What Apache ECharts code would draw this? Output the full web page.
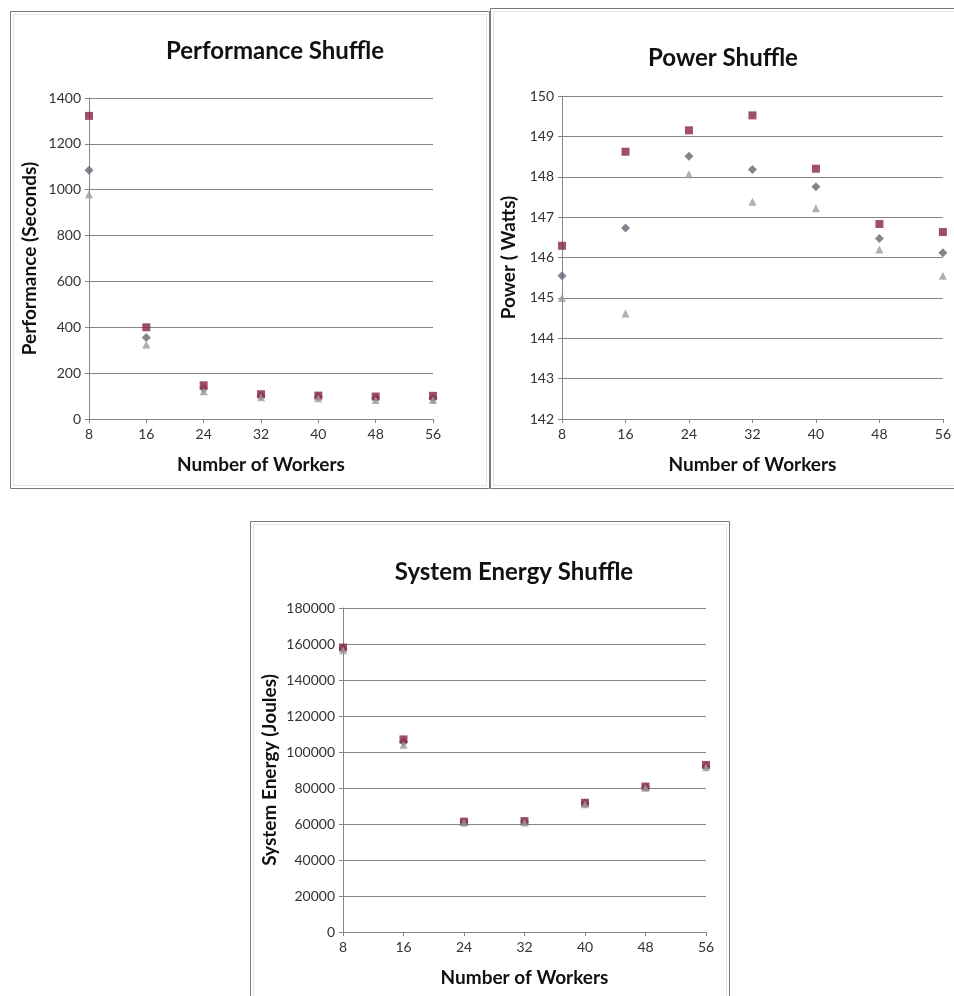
<!DOCTYPE html>
<html lang="en" style="height: 100%">
<head>
  <meta charset="utf-8">
</head>
<body style="height: 100%; margin: 0; background: #fff">
  <div id="container" style="width: 954px; height: 996px"></div>

  <script type="text/javascript" src="https://cdn.jsdelivr.net/npm/echarts@6/dist/echarts.min.js"></script>

  <script type="text/javascript">
    // Number of workers (x values, shared by all three charts)
    const workers = [8, 16, 24, 32, 40, 48, 56];

    // Performance (seconds)
    const perfDiamond = [1085, 355, 132, 100, 97, 90, 88];
    const perfSquare = [1322, 400, 147, 108, 102, 98, 101];
    const perfTriangle = [980, 325, 121, 95, 90, 83, 83];

    // Power (watts)
    const powerDiamond = [145.55, 146.73, 148.51, 148.18, 147.75, 146.47, 146.12];
    const powerSquare = [146.29, 148.62, 149.15, 149.52, 148.2, 146.83, 146.63];
    const powerTriangle = [145.0, 144.61, 148.06, 147.38, 147.22, 146.2, 145.55];

    // System energy (joules)
    const energyDiamond = [157500, 105500, 61000, 61200, 71500, 80500, 92000];
    const energySquare = [158000, 107000, 61300, 61600, 71800, 80800, 92800];
    const energyTriangle = [156500, 104000, 60800, 60900, 71000, 80200, 91500];

    const FONT = 'Lato';
    const GRID_COLOR = '#868686';
    const COLORS = { diamond: '#666674', square: '#872342', triangle: '#9c9c9c' };

    function pairs(ys) {
      return workers.map((w, i) => [w, ys[i]]);
    }

    function xAxisFor(gridIndex) {
      return {
        type: 'value', gridIndex: gridIndex,
        min: 8, max: 56, interval: 8,
        name: 'Number of Workers', nameLocation: 'middle', nameGap: 36,
        nameTextStyle: { fontFamily: FONT, fontWeight: 'bold', fontSize: 19, color: '#111' },
        axisLine: { show: true, onZero: false, lineStyle: { color: GRID_COLOR } },
        axisTick: { show: true, length: 4, lineStyle: { color: GRID_COLOR } },
        axisLabel: { fontFamily: FONT, fontSize: 14, color: '#333', margin: 8 },
        splitLine: { show: false }
      };
    }

    function yAxisFor(gridIndex, name, min, max, interval, gap) {
      return {
        type: 'value', gridIndex: gridIndex,
        min: min, max: max, interval: interval,
        name: name, nameLocation: 'middle', nameGap: gap,
        nameTextStyle: { fontFamily: FONT, fontWeight: 'bold', fontSize: 19, color: '#111' },
        axisLine: { show: true, lineStyle: { color: GRID_COLOR } },
        axisTick: { show: true, length: 4, lineStyle: { color: GRID_COLOR } },
        axisLabel: { fontFamily: FONT, fontSize: 14, color: '#333', margin: 8,
          formatter: function (v) { return String(v); } },
        splitLine: { show: true, lineStyle: { color: GRID_COLOR, width: 1 } }
      };
    }

    function seriesFor(idx, d, s, t) {
      return [
        { name: 'Series 1', type: 'scatter', xAxisIndex: idx, yAxisIndex: idx, symbol: 'diamond', symbolSize: 9,
          itemStyle: { color: COLORS.diamond }, data: pairs(d) },
        { name: 'Series 2', type: 'scatter', xAxisIndex: idx, yAxisIndex: idx, symbol: 'rect', symbolSize: 8,
          itemStyle: { color: COLORS.square }, data: pairs(s) },
        { name: 'Series 3', type: 'scatter', xAxisIndex: idx, yAxisIndex: idx, symbol: 'triangle', symbolSize: 8,
          itemStyle: { color: COLORS.triangle }, data: pairs(t) }
      ];
    }

    function panel(x, y, w, h) {
      return [
        { type: 'rect', shape: { x: x + 0.5, y: y + 0.5, width: w, height: h },
          style: { fill: '#fff', stroke: '#7a7a7a', lineWidth: 1 }, z: -10 },
        { type: 'rect', shape: { x: x + 3.5, y: y + 3.5, width: w - 6, height: h - 6 },
          style: { fill: 'none', stroke: '#e4e4e4', lineWidth: 1 }, z: -9 }
      ];
    }

    var dom = document.getElementById('container');
    var myChart = echarts.init(dom, null, { renderer: 'canvas' });

    var titleStyle = { fontFamily: FONT, fontWeight: 'bold', fontSize: 24, color: '#111' };

    var option = {
      animation: false,
      backgroundColor: '#fff',
      graphic: [].concat(
        panel(10, 11, 479, 477),
        panel(490, 8, 520, 480),
        panel(250, 521, 479, 500)
      ),
      title: [
        { text: 'Performance Shuffle', left: 270, top: 34, textAlign: 'center', textStyle: titleStyle },
        { text: 'Power Shuffle', left: 718, top: 41, textAlign: 'center', textStyle: titleStyle },
        { text: 'System Energy Shuffle', left: 509, top: 555, textAlign: 'center', textStyle: titleStyle }
      ],
      grid: [
        { left: 89, top: 98, width: 344, height: 321 },
        { left: 562, top: 96, width: 384, height: 323 },
        { left: 343, top: 608, width: 363, height: 324 }
      ],
      xAxis: [xAxisFor(0), xAxisFor(1), xAxisFor(2)],
      yAxis: [
        yAxisFor(0, 'Performance (Seconds)', 0, 1400, 200, 50),
        yAxisFor(1, 'Power ( Watts)', 142, 150, 1, 44),
        yAxisFor(2, 'System Energy (Joules)', 0, 180000, 20000, 64)
      ],
      series: [].concat(
        seriesFor(0, perfDiamond, perfSquare, perfTriangle),
        seriesFor(1, powerDiamond, powerSquare, powerTriangle),
        seriesFor(2, energyDiamond, energySquare, energyTriangle)
      )
    };

    myChart.setOption(option);
    window.addEventListener('resize', myChart.resize);
  </script>
</body>
</html>
